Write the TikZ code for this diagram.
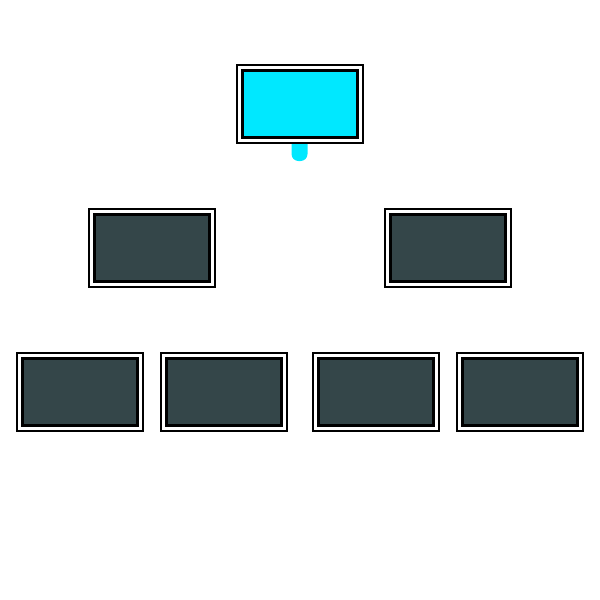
\documentclass[tikz,border=0pt]{standalone}
\usetikzlibrary{calc,backgrounds}
\definecolor{boxdark}{HTML}{344649}
\definecolor{boxcyan}{HTML}{00E8FF}
\tikzset{
  frame/.style={draw=black, fill=white, line width=2pt, inner sep=0pt, outer sep=0pt,
    minimum width=126pt, minimum height=78pt},
  panel/.style={draw=black, line width=3pt, inner sep=0pt, outer sep=0pt,
    minimum width=115pt, minimum height=67pt},
}
\begin{document}
\begin{tikzpicture}[x=1pt,y=-1pt]
\useasboundingbox (0,0) rectangle (600,600);
% top
\node[frame] (top) at (299.5,103.5) {};
\node[panel, fill=boxcyan] (topin) at (top.center) {};
\begin{scope}[on background layer]
  \fill[boxcyan, rounded corners=7pt] ($(top.south)+(-8,-6)$) rectangle ($(top.south)+(8,18.5)$);
\end{scope}
% middle
\node[frame] (ml) at (151.5,247.5) {};
\node[panel, fill=boxdark] (mlin) at (ml.center) {};
\node[frame] (mr) at (447.5,247.5) {};
\node[panel, fill=boxdark] (mrin) at (mr.center) {};
% bottom
\node[frame] (b1) at (79.5,391.5) {};
\node[panel, fill=boxdark] (b1in) at (b1.center) {};
\node[frame] (b2) at (223.5,391.5) {};
\node[panel, fill=boxdark] (b2in) at (b2.center) {};
\node[frame] (b3) at (375.5,391.5) {};
\node[panel, fill=boxdark] (b3in) at (b3.center) {};
\node[frame] (b4) at (519.5,391.5) {};
\node[panel, fill=boxdark] (b4in) at (b4.center) {};
\end{tikzpicture}
\end{document}
